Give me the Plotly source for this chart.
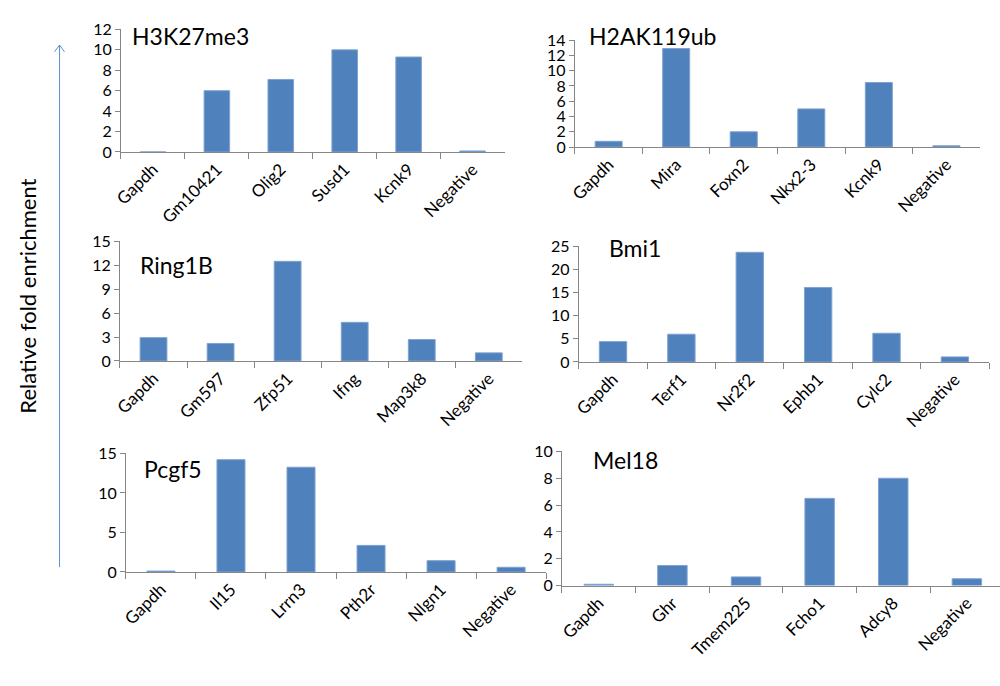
import plotly.graph_objects as go

# ChIP-qPCR fold enrichment for six Polycomb marks / subunits
h3k27me3_genes = ["Gapdh", "Gm10421", "Olig2", "Susd1", "Kcnk9", "Negative"]
h3k27me3_vals = [0.0, 6.0, 7.1, 10.0, 9.3, 0.1]

h2ak119ub_genes = ["Gapdh", "Mira", "Foxn2", "Nkx2-3", "Kcnk9", "Negative"]
h2ak119ub_vals = [0.76, 12.9, 2.0, 5.0, 8.45, 0.17]

ring1b_genes = ["Gapdh", "Gm597", "Zfp51", "Ifng", "Map3k8", "Negative"]
ring1b_vals = [2.93, 2.2, 12.5, 4.85, 2.69, 1.02]

bmi1_genes = ["Gapdh", "Terf1", "Nr2f2", "Ephb1", "Cylc2", "Negative"]
bmi1_vals = [4.4, 6.0, 23.7, 16.1, 6.2, 1.1]

pcgf5_genes = ["Gapdh", "Il15", "Lrrn3", "Pth2r", "Nlgn1", "Negative"]
pcgf5_vals = [0.12, 14.2, 13.25, 3.36, 1.43, 0.6]

mel18_genes = ["Gapdh", "Ghr", "Tmem225", "Fcho1", "Adcy8", "Negative"]
mel18_vals = [0.1, 1.5, 0.65, 6.5, 8.0, 0.51]

W, H = 1000, 686
BAR = "#4F81BD"
AXIS = "#868686"
FONT = "Lato"


def px(x):
    return x / W


def py(y):
    return 1 - y / H


# (title, genes, values, y max, y step, x span, y span (top, bottom), x range end, title pos)
panels = [
    ("H3K27me3", h3k27me3_genes, h3k27me3_vals, 12, 2, (113, 500), (20, 146), 5.5, (122, 27)),
    ("H2AK119ub", h2ak119ub_genes, h2ak119ub_vals, 14, 2, (571, 980), (31, 141), 5.5, (583, 27)),
    ("Ring1B", ring1b_genes, ring1b_vals, 15, 3, (112, 518), (238, 361), 5.5, (130, 262)),
    ("Bmi1", bmi1_genes, bmi1_vals, 25, 5, (575, 989), (243, 362), 5.5, (603, 245)),
    ("Pcgf5", pcgf5_genes, pcgf5_vals, 15, 5, (118, 542), (456, 578), 5.5, (134, 472)),
    ("Mel18", mel18_genes, mel18_vals, 10, 2, (558, 1000), (454, 592), 5.45, (587, 463)),
]

fig = go.Figure()
layout = dict(
    width=W, height=H,
    margin=dict(l=0, r=0, t=0, b=0),
    paper_bgcolor="white", plot_bgcolor="white",
    showlegend=False,
    font=dict(family=FONT, color="#000000", size=17),
)
annotations = []
for i, (title, genes, vals, ymax, ystep, (x0, x1), (yt, yb), xend, (tx, ty)) in enumerate(panels):
    n = "" if i == 0 else str(i + 1)
    fig.add_trace(go.Bar(
        x=genes, y=vals, xaxis="x" + n, yaxis="y" + n,
        marker=dict(color=BAR, line=dict(color="#7FA3D0", width=1)),
        width=0.4, hoverinfo="x+y",
    ))
    layout["xaxis" + n] = dict(
        domain=[px(x0), px(x1)], anchor="y" + n,
        range=[-0.5, xend], type="category",
        showline=True, linecolor=AXIS, linewidth=1,
        ticks="outside", tickson="boundaries", ticklen=6, tickcolor=AXIS,
        tickangle=-45, tickfont=dict(size=17, family=FONT),
        showgrid=False, zeroline=False, fixedrange=True,
    )
    layout["yaxis" + n] = dict(
        domain=[py(yb), py(yt)], anchor="x" + n,
        range=[0, ymax], dtick=ystep, tick0=0,
        showline=True, linecolor=AXIS, linewidth=1,
        ticks="outside", ticklen=5, tickcolor=AXIS,
        tickfont=dict(size=16, family=FONT),
        showgrid=False, zeroline=False, fixedrange=True,
    )
    annotations.append(dict(
        text=title, x=px(tx), y=py(ty), xref="paper", yref="paper",
        xanchor="left", yanchor="middle", showarrow=False,
        font=dict(size=23, family=FONT, color="#000000"),
    ))

# shared y-axis caption with an upward arrow
annotations.append(dict(
    text="Relative fold enrichment", x=px(19), y=py(294),
    xref="paper", yref="paper", textangle=-90, showarrow=False,
    xanchor="center", yanchor="middle",
    font=dict(size=22, family=FONT, color="#000000"),
))
layout["annotations"] = annotations

ARROW = "#5B8FD0"
ax, atop, abot = 51, 36, 573
layout["shapes"] = [
    dict(type="line", xref="paper", yref="paper",
         x0=px(ax), x1=px(ax), y0=py(abot), y1=py(atop),
         line=dict(color=ARROW, width=1)),
    dict(type="line", xref="paper", yref="paper",
         x0=px(ax - 5), x1=px(ax), y0=py(atop + 7), y1=py(atop),
         line=dict(color=ARROW, width=1)),
    dict(type="line", xref="paper", yref="paper",
         x0=px(ax + 5), x1=px(ax), y0=py(atop + 7), y1=py(atop),
         line=dict(color=ARROW, width=1)),
]

fig.update_layout(**layout)
fig.write_html("out.html", config={"displayModeBar": False})
